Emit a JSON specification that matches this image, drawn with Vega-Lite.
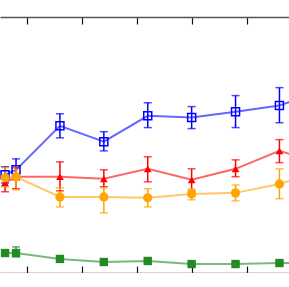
{
  "$schema": "https://vega.github.io/schema/vega-lite/v6.json",
  "autosize": "none",
  "width": 289,
  "height": 256,
  "padding": {"left": 0, "top": 17, "right": 0, "bottom": 0},
  "config": {"view": {"stroke": null}},
  "data": {"values": [
    {"series": "A", "x": 3, "y": 38.4, "lo": 35.2, "hi": 41.5},
    {"series": "A", "x": 4, "y": 40.3, "lo": 36.4, "hi": 44.6},
    {"series": "A", "x": 8, "y": 57.5, "lo": 52.8, "hi": 62.2},
    {"series": "A", "x": 12, "y": 51.3, "lo": 47.7, "hi": 55.2},
    {"series": "A", "x": 16, "y": 61.4, "lo": 56.8, "hi": 66.5},
    {"series": "A", "x": 20, "y": 60.7, "lo": 56.4, "hi": 65.0},
    {"series": "A", "x": 24, "y": 63.0, "lo": 56.8, "hi": 69.3},
    {"series": "A", "x": 28, "y": 65.4, "lo": 58.7, "hi": 72.4},
    {"series": "A", "x": 32, "y": 71.6, "lo": 65.0, "hi": 78.0},
    {"series": "B", "x": 3, "y": 35.2, "lo": 31.7, "hi": 37.6},
    {"series": "B", "x": 4, "y": 37.6, "lo": 32.9, "hi": 41.1},
    {"series": "B", "x": 8, "y": 37.6, "lo": 32.1, "hi": 43.4},
    {"series": "B", "x": 12, "y": 36.8, "lo": 33.7, "hi": 40.3},
    {"series": "B", "x": 16, "y": 40.7, "lo": 35.6, "hi": 45.4},
    {"series": "B", "x": 20, "y": 36.4, "lo": 32.1, "hi": 40.7},
    {"series": "B", "x": 24, "y": 40.7, "lo": 37.6, "hi": 44.2},
    {"series": "B", "x": 28, "y": 47.7, "lo": 43.1, "hi": 52.1},
    {"series": "B", "x": 32, "y": 42.7, "lo": 38.0, "hi": 47.0},
    {"series": "C", "x": 3, "y": 37.2, "lo": 33.7, "hi": 41.1},
    {"series": "C", "x": 4, "y": 37.6, "lo": 32.5, "hi": 41.9},
    {"series": "C", "x": 8, "y": 29.7, "lo": 25.8, "hi": 33.3},
    {"series": "C", "x": 12, "y": 29.7, "lo": 23.5, "hi": 33.3},
    {"series": "C", "x": 16, "y": 29.4, "lo": 25.8, "hi": 32.9},
    {"series": "C", "x": 20, "y": 30.9, "lo": 28.6, "hi": 32.9},
    {"series": "C", "x": 24, "y": 31.3, "lo": 28.2, "hi": 34.4},
    {"series": "C", "x": 28, "y": 34.8, "lo": 29.0, "hi": 40.7},
    {"series": "C", "x": 32, "y": 39.9, "lo": 35.0, "hi": 44.0},
    {"series": "D", "x": 3, "y": 7.8, "lo": 7.0, "hi": 8.6},
    {"series": "D", "x": 4, "y": 7.8, "lo": 6.3, "hi": 10.2},
    {"series": "D", "x": 8, "y": 5.5, "lo": 4.8, "hi": 6.2},
    {"series": "D", "x": 12, "y": 4.3, "lo": 3.7, "hi": 4.9},
    {"series": "D", "x": 16, "y": 4.7, "lo": 4.1, "hi": 5.3},
    {"series": "D", "x": 20, "y": 3.5, "lo": 2.9, "hi": 4.1},
    {"series": "D", "x": 24, "y": 3.5, "lo": 2.9, "hi": 4.1},
    {"series": "D", "x": 28, "y": 3.9, "lo": 3.3, "hi": 4.5},
    {"series": "D", "x": 32, "y": 3.9, "lo": 3.3, "hi": 4.5}
  ]},
  "encoding": {
    "x": {"field": "x", "type": "quantitative",
          "scale": {"domain": [2.54, 28.87], "nice": false, "zero": false},
          "axis": null},
    "y": {"field": "y", "type": "quantitative",
          "scale": {"domain": [0, 100], "nice": false, "zero": false},
          "axis": null},
    "color": {"field": "series", "type": "nominal",
              "scale": {"domain": ["A", "B", "C", "D"], "range": ["#0000ff", "#ff0000", "#ffa500", "#228b22"]},
              "legend": null}
  },
  "layer": [
    {
      "mark": {"type": "line", "clip": true, "strokeWidth": 2, "opacity": 0.6},
      "encoding": {
        "x": {"field": "x", "type": "quantitative",
              "axis": {"orient": "bottom", "values": [5, 10, 15, 20, 25], "grid": false,
                       "title": null, "domainColor": "#555", "domainWidth": 1.5,
                       "tickColor": "#111", "tickWidth": 1.2, "tickSize": -7,
                       "labelPadding": 10, "labelFontSize": 13, "labelColor": "#333",
                       "labelFont": "DejaVu Sans"}}
      }
    },
    {
      "mark": {"type": "rule", "clip": true, "strokeWidth": 1.5},
      "encoding": {
        "x": {"field": "x", "type": "quantitative",
              "axis": {"orient": "top", "values": [5, 10, 15, 20, 25], "grid": false,
                       "title": null, "labels": false, "domainColor": "#555", "domainWidth": 1.5,
                       "tickColor": "#111", "tickWidth": 1.2, "tickSize": -7}},
        "y": {"field": "lo", "type": "quantitative"},
        "y2": {"field": "hi"}
      }
    },
    {
      "mark": {"type": "tick", "clip": true, "orient": "horizontal", "size": 8, "thickness": 1.5},
      "encoding": {"y": {"field": "lo", "type": "quantitative"}}
    },
    {
      "mark": {"type": "tick", "clip": true, "orient": "horizontal", "size": 8, "thickness": 1.5},
      "encoding": {"y": {"field": "hi", "type": "quantitative"}}
    },
    {
      "transform": [{"filter": "datum.series === 'A'"}],
      "mark": {"type": "point", "clip": true, "shape": "square", "filled": false, "size": 64, "strokeWidth": 1.5, "opacity": 1}
    },
    {
      "transform": [{"filter": "datum.series === 'B'"}],
      "mark": {"type": "point", "clip": true, "shape": "triangle-up", "filled": true, "size": 60, "opacity": 1}
    },
    {
      "transform": [{"filter": "datum.series === 'C'"}],
      "mark": {"type": "point", "clip": true, "shape": "circle", "filled": true, "size": 85, "opacity": 1}
    },
    {
      "transform": [{"filter": "datum.series === 'D'"}],
      "mark": {"type": "point", "clip": true, "shape": "square", "filled": true, "size": 70, "opacity": 1}
    }
  ],
  "resolve": {"axis": {"x": "independent"}}
}
